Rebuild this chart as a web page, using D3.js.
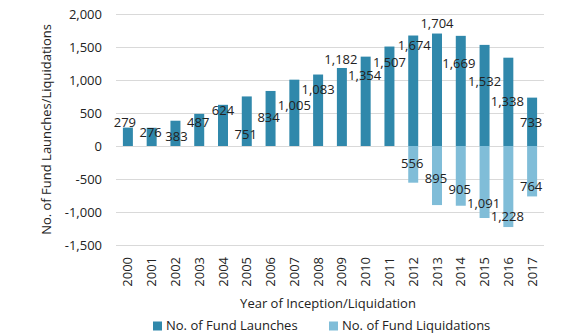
<!DOCTYPE html>
<html>
<head>
<meta charset="utf-8">
<script src="https://cdn.jsdelivr.net/npm/d3@7"></script>
<style>
  body { margin: 0; background: #fff; }
  svg text { font-family: "Open Sans", sans-serif; fill: #222; }
  .grid line { stroke: #d9d9d9; stroke-width: 1; }
</style>
</head>
<body>
<div id="chart"></div>
<script>
const years = ["2000", "2001", "2002", "2003", "2004", "2005", "2006", "2007", "2008",
  "2009", "2010", "2011", "2012", "2013", "2014", "2015", "2016", "2017"];
const launches = [279, 276, 383, 487, 624, 751, 834, 1005, 1083, 1182, 1354, 1507, 1674, 1704, 1669, 1532, 1338, 733];
const liquidations = [null, null, null, null, null, null, null, null, null, null, null, null, 556, 895, 905, 1091, 1228, 764];
const yTicks = [-1500, -1000, -500, 0, 500, 1000, 1500, 2000];

// label nudges (px) relative to the bar end, as placed in the original
const launchLabelDy = [-5, 5, 16, 9, 6, 38, 26, 26, 15, -9, 19, 16, 10, -10, 28, 37, 44, 25];
const launchLabelDx = [-3, -1, 1, -1, 0, -1, -2, 0, 0, -1, -1, 0, 1, 0, -2, 0, -1, -1];
const liqLabelDy = [0, 0, 0, 0, 0, 0, 0, 0, 0, 0, 0, 0, -19, -27, -16, -15, -11, -10];

const launchColor = "#3088ab";
const liqColor = "#80bdd8";

const width = 576, height = 333;
const plot = { left: 116, right: 544, top: 14, bottom: 245 };

const svg = d3.select("#chart").append("svg")
  .attr("width", width).attr("height", height);

const x = d3.scaleBand().domain(years).range([plot.left, plot.right]).paddingInner(0.58).paddingOuter(0.29);
const y = d3.scaleLinear().domain([-1500, 2000]).range([plot.bottom, plot.top]);
const fmt = d3.formatLocale({ decimal: ".", thousands: ",", grouping: [3], currency: ["", ""], minus: "-" }).format(",");

// grid
svg.append("g").attr("class", "grid")
  .selectAll("line").data(yTicks).enter().append("line")
  .attr("x1", plot.left).attr("x2", plot.right)
  .attr("y1", d => y(d) + 0.5).attr("y2", d => y(d) + 0.5);

// y axis labels
const yAxis = svg.append("g")
  .attr("transform", `translate(${plot.left},0)`)
  .call(d3.axisLeft(y).tickValues(yTicks).tickSize(0).tickPadding(14).tickFormat(fmt));
yAxis.select(".domain").remove();
yAxis.selectAll("text").style("font-size", "13px").style("font-family", "Open Sans");

// x axis labels, vertical
const xAxis = svg.append("g")
  .attr("transform", `translate(0,${plot.bottom})`)
  .call(d3.axisBottom(x).tickSize(0));
xAxis.select(".domain").remove();
xAxis.selectAll("text")
  .style("font-size", "13px").style("font-family", "Open Sans")
  .attr("transform", "rotate(-90)")
  .attr("text-anchor", "end")
  .attr("x", -12).attr("y", 0).attr("dy", "0.35em");

// bars
svg.append("g").selectAll("rect").data(launches).enter().append("rect")
  .attr("x", (d, i) => x(years[i]))
  .attr("width", x.bandwidth())
  .attr("y", d => y(d))
  .attr("height", d => y(0) - y(d))
  .attr("fill", launchColor);

const liqData = liquidations.map((v, i) => ({ v, i })).filter(d => d.v != null);
svg.append("g").selectAll("rect").data(liqData).enter().append("rect")
  .attr("x", d => x(years[d.i]))
  .attr("width", x.bandwidth())
  .attr("y", y(0))
  .attr("height", d => y(-d.v) - y(0))
  .attr("fill", liqColor);

// value labels
svg.append("g").selectAll("text").data(launches).enter().append("text")
  .attr("x", (d, i) => x(years[i]) + x.bandwidth() / 2 + launchLabelDx[i])
  .attr("y", (d, i) => y(d) + launchLabelDy[i])
  .attr("dy", "0.35em")
  .attr("text-anchor", "middle")
  .style("font-size", "13px")
  .text(d => fmt(d));

svg.append("g").selectAll("text").data(liqData).enter().append("text")
  .attr("x", d => x(years[d.i]) + x.bandwidth() / 2 - 1)
  .attr("y", d => y(-d.v) + liqLabelDy[d.i])
  .attr("dy", "0.35em")
  .attr("text-anchor", "middle")
  .style("font-size", "13px")
  .text(d => fmt(d.v));

// axis titles
svg.append("text")
  .attr("transform", `translate(46,${(plot.top + plot.bottom) / 2}) rotate(-90)`)
  .attr("text-anchor", "middle").attr("dy", "0.35em")
  .style("font-size", "13px")
  .text("No. of Fund Launches/Liquidations");

svg.append("text")
  .attr("x", 328).attr("y", 303)
  .attr("text-anchor", "middle").attr("dy", "0.35em")
  .style("font-size", "13px")
  .text("Year of Inception/Liquidation");

// legend
const legend = [
  { name: "No. of Fund Launches", color: launchColor, x: 153 },
  { name: "No. of Fund Liquidations", color: liqColor, x: 329 }
];
const lg = svg.append("g").selectAll("g").data(legend).enter().append("g")
  .attr("transform", d => `translate(${d.x},320)`);
lg.append("rect").attr("width", 9).attr("height", 9).attr("y", 1.5).attr("fill", d => d.color);
lg.append("text").attr("x", 13).attr("y", 5.5).attr("dy", "0.35em")
  .style("font-size", "13px").text(d => d.name);
</script>
</body>
</html>
